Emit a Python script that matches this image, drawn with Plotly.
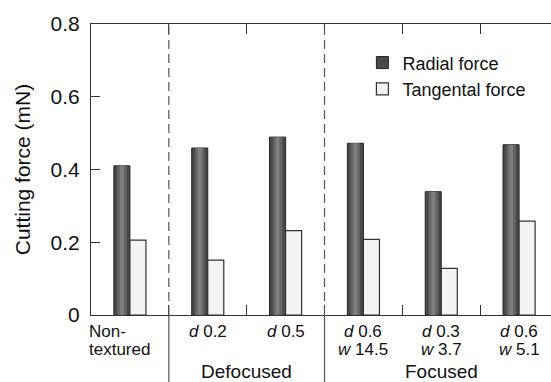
import plotly.graph_objects as go

# ---- data ----
categories = ["Non-textured", "d 0.2", "d 0.5", "d 0.6 w 14.5", "d 0.3 w 3.7", "d 0.6 w 5.1"]
label_line1 = ["Non-", "<i>d</i> 0.2", "<i>d</i> 0.5", "<i>d</i> 0.6", "<i>d</i> 0.3", "<i>d</i> 0.6"]
label_line2 = ["textured", "", "", "<i>w</i> 14.5", "<i>w</i> 3.7", "<i>w</i> 5.1"]
radial_force = [0.41, 0.459, 0.489, 0.472, 0.339, 0.468]
tangental_force = [0.206, 0.151, 0.232, 0.208, 0.128, 0.258]
group_names = ["Defocused", "Focused"]
group_centers = [1.5, 4.0]
separators = [0.5, 2.5]
y_ticks = [0, 0.2, 0.4, 0.6, 0.8]
y_ticktext = ["0", "0.2", "0.4", "0.6", "0.8"]

x = list(range(len(categories)))
FONT = "Liberation Sans, Arial, Helvetica, sans-serif"
AX = "#333333"
TXT = "#111111"
BW = 0.206  # bar width in category units

fig = go.Figure()
fig.add_trace(go.Bar(
    x=x, y=radial_force, name="Radial force", width=BW, offset=-BW,
    marker=dict(color="#4a4a4a", line=dict(color="#222222", width=1)),
))
# cylinder-like shading of the radial bars (same data, narrower overlays)
fig.add_trace(go.Bar(
    x=x, y=radial_force, width=0.12, offset=-BW / 2 - 0.06, showlegend=False,
    marker=dict(color="#666666", line=dict(width=0)), hoverinfo="skip",
))
fig.add_trace(go.Bar(
    x=x, y=radial_force, width=0.05, offset=-BW / 2 - 0.025, showlegend=False,
    marker=dict(color="#7e7e7e", line=dict(width=0)), hoverinfo="skip",
))
fig.add_trace(go.Bar(
    x=x, y=tangental_force, name="Tangental force", width=BW, offset=0,
    marker=dict(color="#f3f3f3", line=dict(color="#333333", width=1.2)),
))

# plot area geometry (px) for paper conversion
H_PLOT = 291.0
W_PLOT = 460.0
def py(px):
    return (315 - px) / H_PLOT
def pxp(px):
    return (px - 91) / W_PLOT

LBL = dict(size=17, family=FONT, color=TXT)

# category labels
for i in x:
    if i == 0:
        fig.add_annotation(x=pxp(88), y=py(331), xref="paper", yref="paper", text=label_line1[i],
                           showarrow=False, xanchor="left", yanchor="middle", font=LBL, borderpad=0)
        fig.add_annotation(x=pxp(88), y=py(349), xref="paper", yref="paper", text=label_line2[i],
                           showarrow=False, xanchor="left", yanchor="middle", font=LBL, borderpad=0)
    else:
        fig.add_annotation(x=i, y=py(331), xref="x", yref="paper", text=label_line1[i],
                           showarrow=False, xanchor="center", yanchor="middle", font=LBL, borderpad=0)
        if label_line2[i]:
            fig.add_annotation(x=i, y=py(349), xref="x", yref="paper", text=label_line2[i],
                               showarrow=False, xanchor="center", yanchor="middle", font=LBL,
                               borderpad=0)

for name, c in zip(group_names, group_centers):
    fig.add_annotation(x=c, y=py(371), xref="x", yref="paper", text=name,
                       showarrow=False, xanchor="center", yanchor="middle", borderpad=0,
                       font=dict(size=19, family=FONT, color=TXT))

# separators: dashed inside plot, solid below
for s in separators:
    fig.add_shape(type="line", x0=s, x1=s, y0=0, y1=1, xref="x", yref="paper",
                  line=dict(color="#555555", width=1.2, dash="9px,5px"))
    fig.add_shape(type="line", x0=s, x1=s, y0=0, y1=py(382), xref="x", yref="paper",
                  line=dict(color="#555555", width=1.2))

fig.update_layout(
    width=551, height=382,
    margin=dict(l=91, r=0, t=24, b=67, autoexpand=False),
    paper_bgcolor="white", plot_bgcolor="white",
    barmode="overlay",
    font=dict(family=FONT, size=18, color=TXT),
    showlegend=True,
    legend=dict(x=0.59, y=0.93, xanchor="left", yanchor="top",
                bgcolor="rgba(0,0,0,0)", font=dict(size=18, family=FONT, color=TXT),
                tracegroupgap=0, itemwidth=30),
    xaxis=dict(
        range=[-0.5, 5.41], showgrid=False, zeroline=False,
        showline=True, linecolor=AX, linewidth=1.2, mirror="ticks",
        tickmode="array", tickvals=[0.5, 1.5, 2.5, 3.5, 4.5],
        ticks="inside", ticklen=10, tickcolor=AX, tickwidth=1.2,
        showticklabels=False, automargin=False,
    ),
    yaxis=dict(
        range=[0, 0.8], showgrid=False, zeroline=False,
        showline=True, linecolor=AX, linewidth=1.2,
        tickmode="array", tickvals=y_ticks, ticktext=y_ticktext,
        ticks="inside", ticklen=9, tickcolor=AX, tickwidth=1.2,
        tickfont=dict(size=21, family=FONT, color=TXT), automargin=False,
        ticklabelstandoff=6,
        title=dict(text="Cutting force (mN)", font=dict(size=21, family=FONT, color=TXT), standoff=14),
    ),
)

fig.write_html("out.html", config={"displayModeBar": False},
               post_script="document.body.style.margin='0';document.body.style.padding='0';")
